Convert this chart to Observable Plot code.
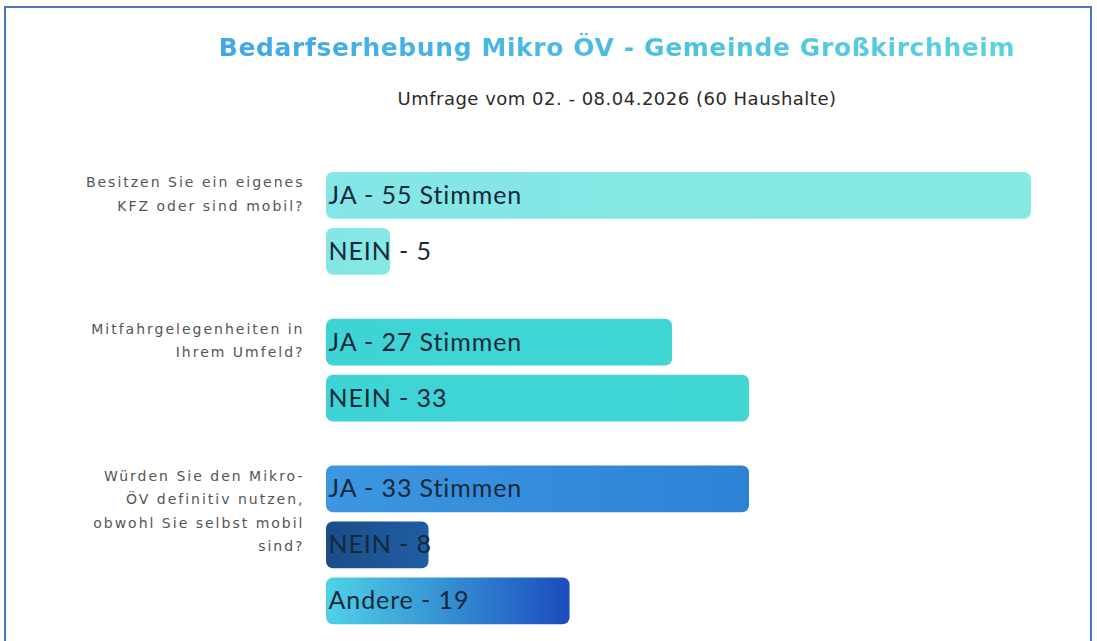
<!DOCTYPE html>
<html><head><meta charset="utf-8">
<script src="https://cdn.jsdelivr.net/npm/d3@7"></script>
<script src="https://cdn.jsdelivr.net/npm/@observablehq/plot@0.6"></script>
<style>
html,body{margin:0;padding:0;background:#fff;width:1097px;height:641px;overflow:hidden;}
#frame{position:absolute;left:4px;top:6px;width:1084px;height:700px;border:2px solid #4a78c6;border-bottom:none;}
#title{position:absolute;left:137px;right:0;top:33px;text-align:center;font-family:"DejaVu Sans";font-weight:700;font-size:25px;letter-spacing:0.6px;}
#title span{background:linear-gradient(90deg,#3fa8e6,#5ad3dc);-webkit-background-clip:text;background-clip:text;color:transparent;}
#subtitle{position:absolute;left:137px;right:0;top:88px;text-align:center;font-family:"DejaVu Sans";font-size:18px;letter-spacing:0.5px;color:#2a2a2a;}
#chart{position:absolute;left:0;top:150px;}
</style>
</head><body>
<div id="frame"></div>
<div id="title"><span>Bedarfserhebung Mikro ÖV - Gemeinde Großkirchheim</span></div>
<div id="subtitle">Umfrage vom 02. - 08.04.2026 (60 Haushalte)</div>
<div id="chart"></div>
<script>
const questions = [
  "Besitzen Sie ein eigenes\nKFZ oder sind mobil?",
  "Mitfahrgelegenheiten in\nIhrem Umfeld?",
  "Würden Sie den Mikro-\nÖV definitiv nutzen,\nobwohl Sie selbst mobil\nsind?"
];
const answers = [["JA", "NEIN"], ["JA", "NEIN"], ["JA", "NEIN", "Andere"]];
const votes = [[55, 5], [27, 33], [33, 8, 19]];
const unitLabel = "Stimmen";

// styling (kept apart from data)
const gradients = {
  "0-JA": ["#84e6e5", "#86e9e4"],
  "0-NEIN": ["#84e6e5", "#86e9e4"],
  "1-JA": ["#3ed4d6", "#40d6d4"],
  "1-NEIN": ["#3ed4d6", "#40d6d4"],
  "2-JA": ["#3c96e0", "#2d82d6"],
  "2-NEIN": ["#1a4d88", "#1f5da2"],
  "2-Andere": ["#4fd2e8", "#1a4cbd"]
};
const BAR = 0.836, GAP = 0.62;

const rows = [];
const heads = [];
let pos = 0;
questions.forEach((q, gi) => {
  heads.push({q, r: pos});
  answers[gi].forEach((a, ai) => {
    const v = votes[gi][ai];
    rows.push({key: `${gi}-${a}`, a, v, r: pos,
      label: `${a} - ${v}` + (a === "JA" ? ` ${unitLabel}` : "")});
    pos += 1;
  });
  pos += GAP;
});

const gid = k => "grad-" + k.replace(/[^a-zA-Z0-9]/g, "_");

const svg = Plot.plot({
  width: 1097,
  height: 491,
  marginLeft: 326,
  marginRight: 66,
  marginTop: 22,
  marginBottom: 0,
  x: {domain: [0, 55], axis: null},
  y: {domain: [0, 469 / 56], reverse: true, axis: null},
  color: {type: "identity"},
  marks: [
    Plot.rect(rows, {x1: 0, x2: "v", y1: "r", y2: d => d.r + BAR,
      fill: d => `url(#${gid(d.key)})`, rx: 7}),
    Plot.text(rows, {x: 0, y: d => d.r + BAR / 2, text: "label", textAnchor: "start",
      dx: 2, fontSize: 25, fontFamily: "Lato", fill: "#15283a"}),
    Plot.text(heads, {x: 0, y: "r", text: "q", textAnchor: "end", lineAnchor: "top",
      lineHeight: 1.68, dx: -22, dy: -2, fontSize: 14, fontFamily: "DejaVu Sans",
      fill: "#555"})
  ]
});

const defs = d3.select(svg).insert("defs", ":first-child");
Object.entries(gradients).forEach(([k, [c0, c1]]) => {
  const g = defs.append("linearGradient").attr("id", gid(k))
    .attr("x1", "0").attr("x2", "1").attr("y1", "0").attr("y2", "0");
  g.append("stop").attr("offset", "0%").attr("stop-color", c0);
  g.append("stop").attr("offset", "100%").attr("stop-color", c1);
});
const textGroups = svg.querySelectorAll('g[aria-label="text"]');
if (textGroups[0]) textGroups[0].setAttribute("letter-spacing", "0.9");
if (textGroups[1]) textGroups[1].setAttribute("letter-spacing", "2");

document.getElementById("chart").appendChild(svg);
</script>
</body></html>
